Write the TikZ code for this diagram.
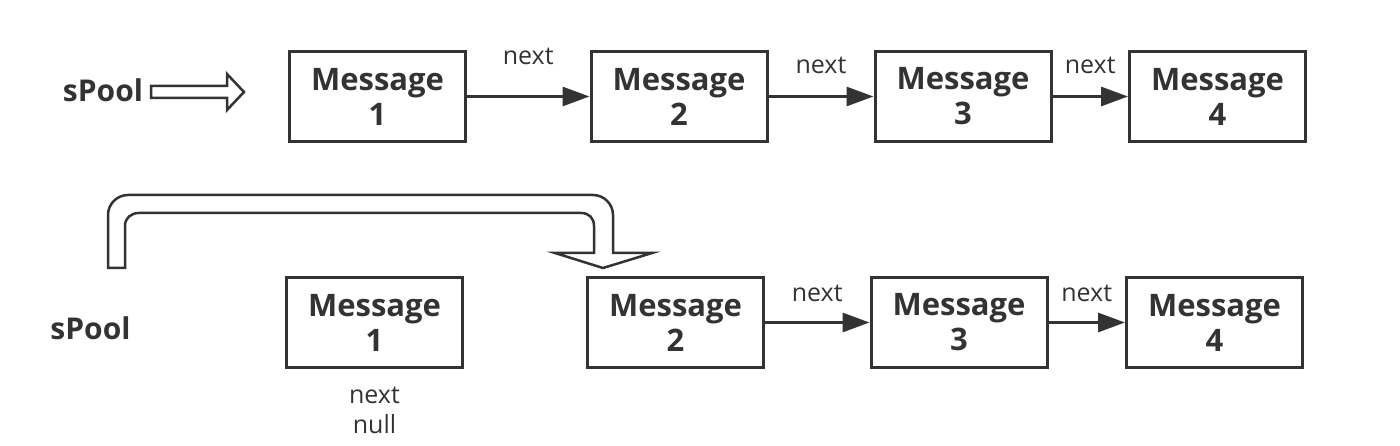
\documentclass[tikz,border=0pt]{standalone}
\usepackage{fontspec}
\setmainfont{Open Sans}
\usetikzlibrary{positioning, arrows.meta}
\definecolor{ink}{HTML}{333333}

\begin{document}
\begin{tikzpicture}[x=1pt, y=-1pt, ink,
    msgbox/.style={draw=ink, line width=3pt, minimum width=176pt, minimum height=90pt,
      inner sep=0pt, align=center, font=\bfseries\fontsize{31}{35}\selectfont},
    poolname/.style={anchor=base, inner sep=0pt, font=\bfseries\fontsize{30}{35}\selectfont},
    nextlbl/.style={inner sep=0pt, font=\fontsize{25}{30}\selectfont},
    nextarrow/.style={line width=3pt, -{Triangle[length=27pt, width=19pt]}},
    hollow/.style={line width=2.5pt, line join=miter}]

  \useasboundingbox (0,0) rectangle (1400,446);

  % Top list
  \node[poolname] (sp1) at (103,102) {sPool};
  \foreach \i/\x in {1/377.5, 2/679, 3/963, 4/1217.5} {
    \node[msgbox] (t\i) at (\x,96.5) {Message\\\i};
  }
  \draw[hollow] (151,86) -- (227,86) -- (227,74) -- (244,92) -- (227,110) -- (227,98) -- (151,98) -- cycle;
  \draw[nextarrow] (t1) -- node[nextlbl, above=30pt] {next} (t2);
  \draw[nextarrow] (t2) -- node[nextlbl, above=21pt] {next} (t3);
  \draw[nextarrow] (t3) -- node[nextlbl, above=21pt] {next} (t4);

  % Bottom list
  \node[poolname] (sp2) at (90.5,339) {sPool};
  \foreach \i/\x in {1/374.5, 2/675.5, 3/959, 4/1214.5} {
    \node[msgbox] (b\i) at (\x,322.5) {Message\\\i};
  }
  \node[nextlbl, align=center, below=18pt of b1] (nul) {next\\null};
  \draw[nextarrow] (b2) -- node[nextlbl, above=19.5pt] {next} (b3);
  \draw[nextarrow] (b3) -- node[nextlbl, above=19.5pt] {next} (b4);

  % Bent hollow arrow
  \draw[hollow] (108,268) -- (108,215) .. controls (108,204) and (117,195) .. (128,195)
    -- (593,195) .. controls (604,195) and (613,204) .. (613,215) -- (613,253)
    -- (652,253) -- (603,268) -- (555,253) -- (594,253) -- (594,226)
    .. controls (594,218) and (589,213) .. (581,213) -- (139,213)
    .. controls (131,213) and (125,218) .. (125,226) -- (125,268) -- cycle;

\end{tikzpicture}
\end{document}
